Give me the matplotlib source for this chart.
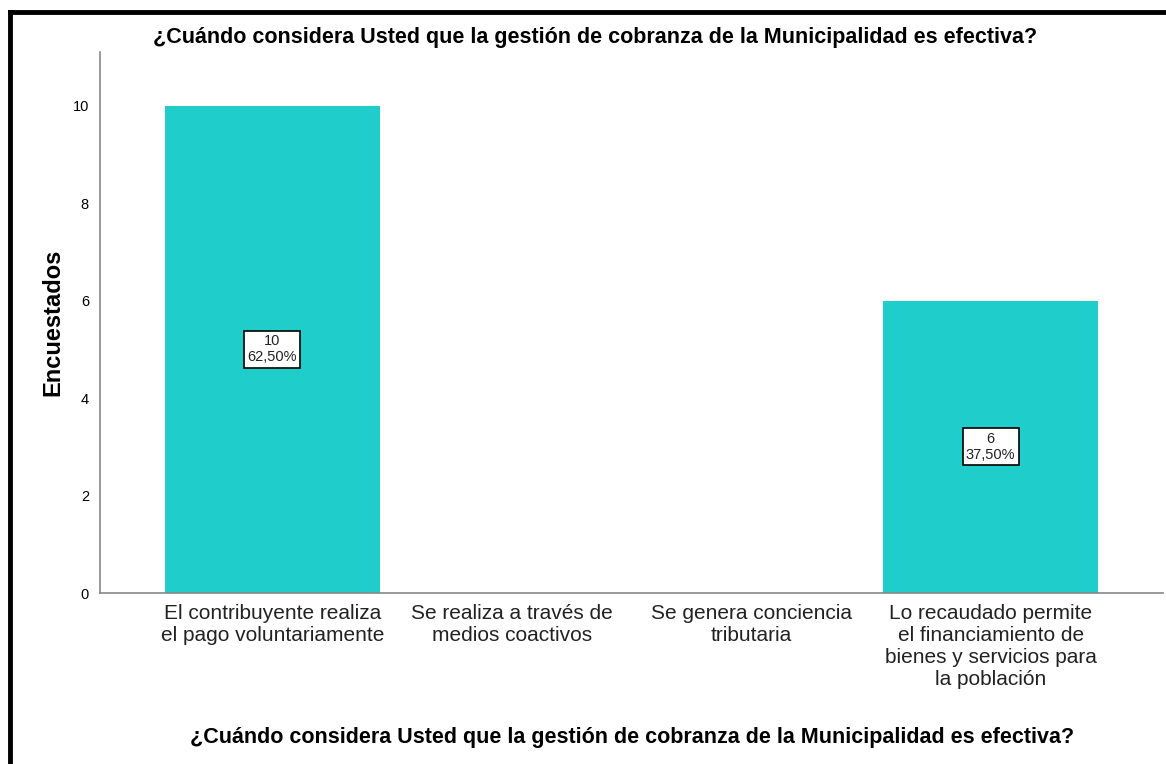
import matplotlib.pyplot as plt
import numpy as np
from matplotlib.lines import Line2D

plt.rcParams['font.family'] = ['Liberation Sans', 'DejaVu Sans']

categorias = ['El contribuyente realiza\nel pago voluntariamente',
              'Se realiza a través de\nmedios coactivos',
              'Se genera conciencia\ntributaria',
              'Lo recaudado permite\nel financiamiento de\nbienes y servicios para\nla población']
encuestados = [10, 0, 0, 6]
porcentajes = ['62,50%', '', '', '37,50%']
titulo = '¿Cuándo considera Usted que la gestión de cobranza de la Municipalidad es efectiva?'

fig = plt.figure(figsize=(11.66, 7.64), dpi=100)
ax = fig.add_axes([0.0858, 0.2238, 0.9116, 0.7082])

x = np.arange(len(categorias))
ax.bar(x, encuestados, width=0.9, color='#1fcecb', zorder=2)

# etiquetas dentro de las barras
for i, v in enumerate(encuestados):
    if v > 0:
        ax.text(i, v / 2, f'{v}\n{porcentajes[i]}', ha='center', va='center',
                fontsize=10.5, linespacing=1.2, color='#222222',
                bbox=dict(boxstyle='square,pad=0.22', fc='white', ec='black', lw=1.2))

ax.set_xlim(-0.72, 3.72)
ax.set_ylim(0, 11.1)
ax.set_yticks([0, 2, 4, 6, 8, 10])
ax.set_xticks(x)
ax.set_xticklabels(categorias, fontsize=15, color='#222222', linespacing=1.2)
ax.tick_params(axis='both', length=0)
ax.tick_params(axis='y', labelsize=10.5, pad=8)
ax.tick_params(axis='x', pad=8)

for s in ['top', 'right']:
    ax.spines[s].set_visible(False)
for s in ['left', 'bottom']:
    ax.spines[s].set_color('#888888')
    ax.spines[s].set_linewidth(1.2)

ax.set_ylabel('Encuestados', fontsize=17, fontweight='bold', labelpad=6)
fig.text(0.51, 1 - 38 / 764, titulo, ha='center', va='center', fontsize=15.5, fontweight='bold')
fig.text(0.542, 1 - 738 / 764, titulo, ha='center', va='center', fontsize=15.5, fontweight='bold')

# marco negro
fig.add_artist(Line2D([10 / 1166, 10 / 1166], [0, 1 - 12 / 764], color='black', lw=3.5))
fig.add_artist(Line2D([10 / 1166, 1], [1 - 12 / 764, 1 - 12 / 764], color='black', lw=3.5))

fig.savefig('out.png', dpi=100)
